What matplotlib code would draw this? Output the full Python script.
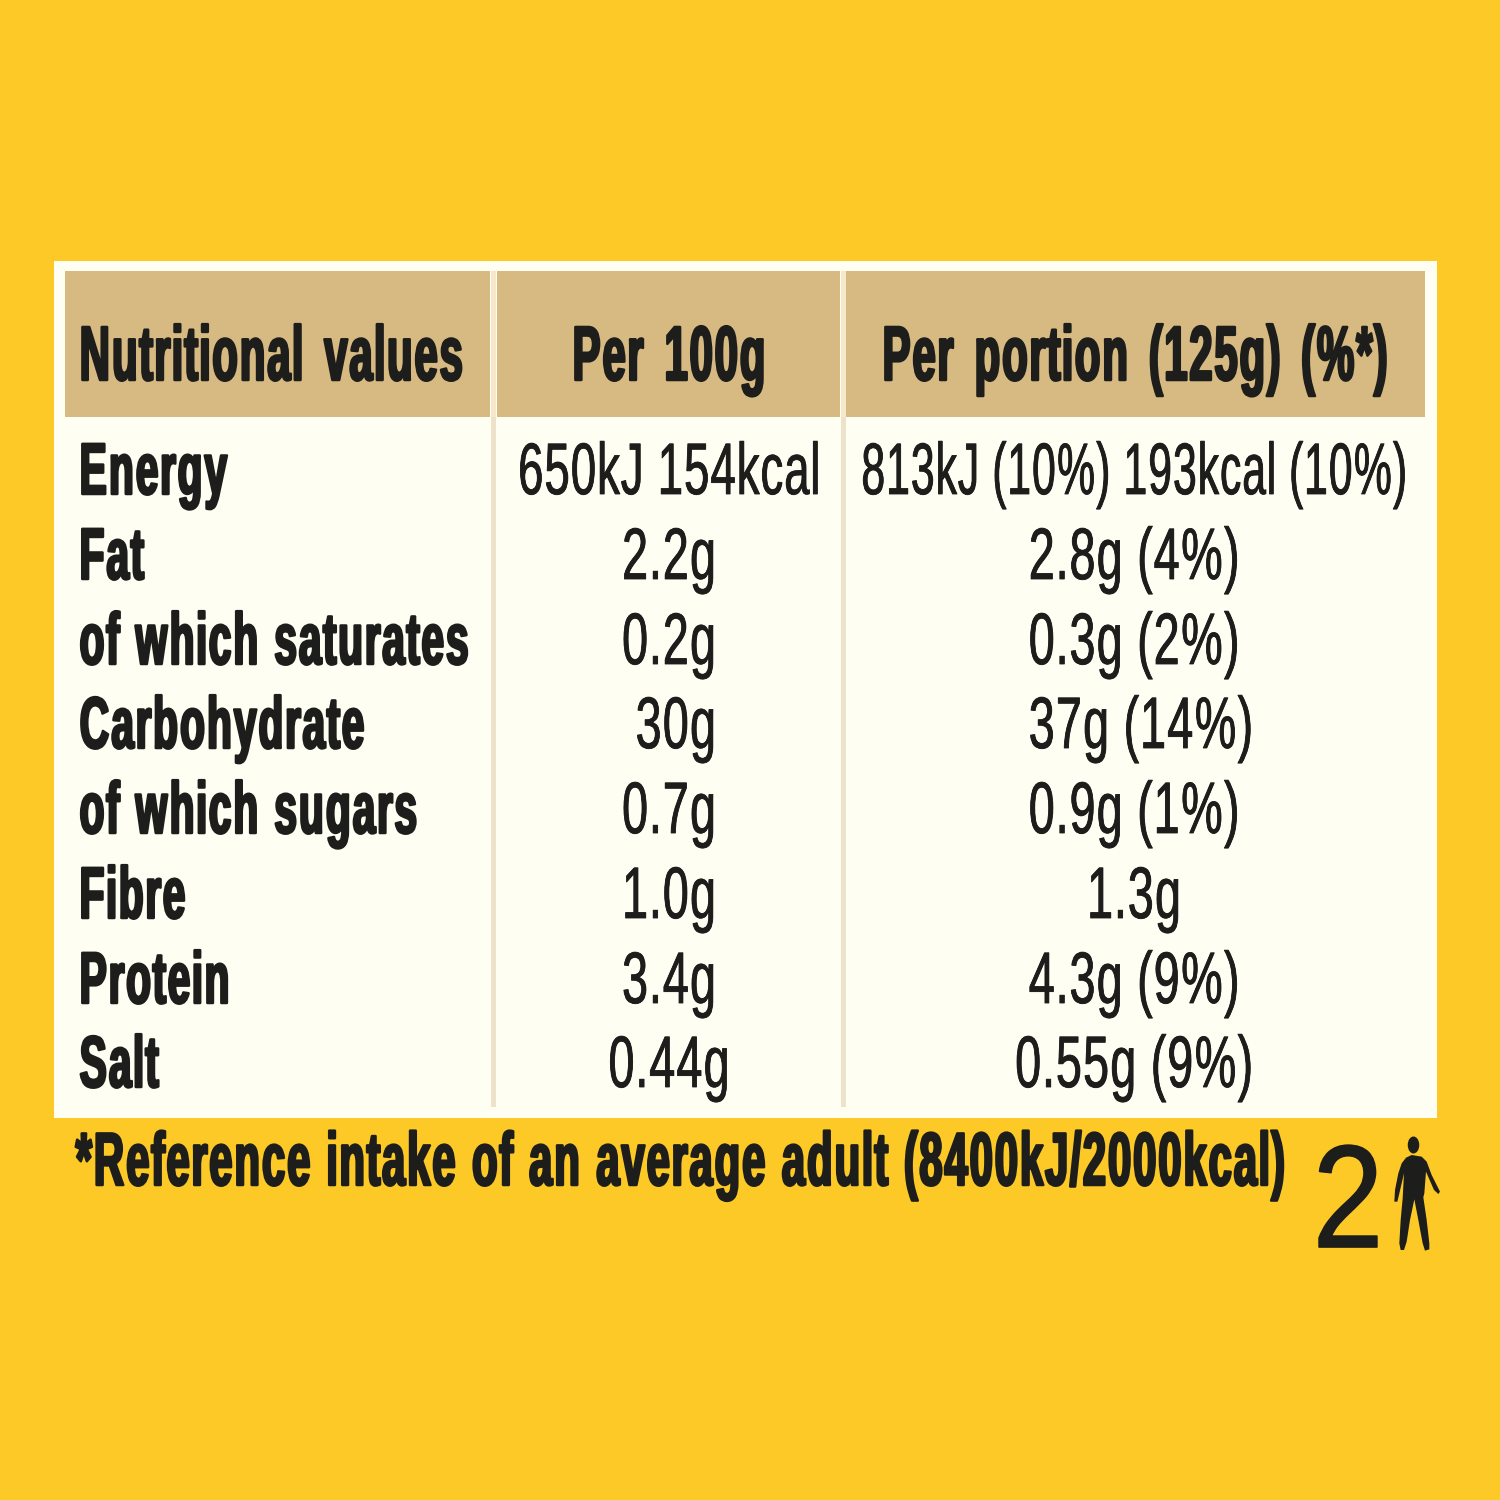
import matplotlib
matplotlib.use('Agg')
import matplotlib.pyplot as plt
from matplotlib import font_manager as fm
from matplotlib.font_manager import FontProperties
from matplotlib.patches import Rectangle, Polygon, Ellipse
import matplotlib.patheffects as pe
from fontTools.ttLib import TTFont

header_labels = ['Nutritional values', 'Per 100g', 'Per portion (125g) (%*)']
nutrients = ['Energy', 'Fat', 'of which saturates', 'Carbohydrate', 'of which sugars', 'Fibre', 'Protein', 'Salt']
per_100g = ['650kJ 154kcal', '2.2g', '0.2g', ' 30g', '0.7g', '1.0g', '3.4g', '0.44g']
per_portion = ['813kJ (10%) 193kcal (10%)', '2.8g (4%)', '0.3g (2%)', ' 37g (14%)', '0.9g (1%)', '1.3g', '4.3g (9%)', '0.55g (9%)']
footnote = '*Reference intake of an average adult (8400kJ/2000kcal)'
portions = '2'

YEL = '#FDC926'; CREAM = '#FFFEF3'; TAN = '#D7BA82'; INK = '#1D1D1B'; SEP = '#EFE2CB'; SEP_TOP = '#F7E8CB'


def condensed(weight, shape, advance, space, family):
    """Write a condensed copy of Liberation Sans (glyph width, advance and
    word-space factors set apart) and register it."""
    src = fm.findfont(FontProperties(family='Liberation Sans', weight=weight))
    f = TTFont(src)
    glyf = f['glyf']
    hmtx = f['hmtx']
    old = dict(hmtx.metrics)
    shift = {n: (a * advance - a * shape) / 2 for n, (a, _) in old.items()}
    for name in glyf.keys():
        g = glyf[name]
        if g.isComposite():
            for c in g.components:
                c.x = round(c.x * shape)
    for name in glyf.keys():
        g = glyf[name]
        if not g.isComposite() and g.numberOfContours > 0:
            g.coordinates.scale((shape, 1))
            g.coordinates.translate((round(shift[name]), 0))
            g.coordinates.toInt()
            g.program.fromBytecode([])
    for name, (adv, lsb) in old.items():
        factor = advance * space if name in ('space', 'uni00A0') else advance
        hmtx.metrics[name] = (round(adv * factor), round(lsb * shape + shift[name]))
    for t in ('kern', 'GPOS', 'GSUB', 'GDEF', 'fpgm', 'prep', 'cvt ', 'hdmx', 'VDMX', 'LTSH', 'gasp'):
        if t in f:
            del f[t]
    for rec in f['name'].names:
        if rec.nameID in (1, 4, 16):
            rec.string = family
        elif rec.nameID == 6:
            rec.string = family.replace(' ', '')
        elif rec.nameID in (2, 17):
            rec.string = 'Regular'
    f['OS/2'].usWeightClass = 400
    f['OS/2'].fsSelection = 0x40
    f['head'].macStyle = 0
    path = family.replace(' ', '') + '.ttf'
    f.save(path)
    fm.fontManager.addfont(path)
    return family


plt.rcParams['text.hinting'] = 'none'
HDR = condensed('bold', 0.545, 0.585, 1.55, 'Cond Head')
BLD = condensed('bold', 0.56, 0.605, 1.15, 'Cond Bold')
REG = condensed('normal', 0.64, 0.67, 1.0, 'Cond Reg')
E100 = condensed('normal', 0.625, 0.65, 1.0, 'Cond Energy A')
EPOR = condensed('normal', 0.585, 0.61, 1.0, 'Cond Energy B')
FOOT = condensed('bold', 0.56, 0.603, 1.15, 'Cond Foot')
TWO = condensed('normal', 0.87, 0.87, 1.0, 'Cond Two')

fig = plt.figure(figsize=(10, 10), dpi=150, facecolor=YEL)
ax = fig.add_axes([0, 0, 1, 1])
ax.set_xlim(0, 1500); ax.set_ylim(1500, 0); ax.axis('off')

ax.add_patch(Rectangle((54, 261), 1383, 857, fc=CREAM, ec='none'))
for x0, w in [(65, 425), (497, 343), (846, 579)]:
    ax.add_patch(Rectangle((x0, 271), w, 146, fc=TAN, ec='none'))
for x0 in (491, 841):
    ax.add_patch(Rectangle((x0, 271), 5, 146, fc=SEP_TOP, ec='none'))
    ax.add_patch(Rectangle((x0, 417), 5, 690, fc=SEP, ec='none'))

heavy = [pe.withStroke(linewidth=1.2, foreground=INK)]
medium = [pe.withStroke(linewidth=0.4, foreground=INK)]
FS_H = 37; FS = 35

for label, x, ha in zip(header_labels, [78.5, 669, 1135], ['left', 'center', 'center']):
    ax.text(x, 380, label, family=HDR, fontsize=FS_H, color=INK, va='baseline', ha=ha, path_effects=heavy)

rows_y = [494, 579, 664, 748, 833, 918, 1003, 1087]
for i, (y, a, b, c) in enumerate(zip(rows_y, nutrients, per_100g, per_portion)):
    ax.text(78.5, y, a, family=BLD, fontsize=FS, color=INK, va='baseline', ha='left', path_effects=heavy)
    ax.text(669, y, b, family=E100 if i == 0 else REG, fontsize=FS, color=INK, va='baseline', ha='center', path_effects=medium)
    ax.text(1134, y, c, family=EPOR if i == 0 else REG, fontsize=FS, color=INK, va='baseline', ha='center', path_effects=medium)

ax.text(75, 1185, footnote, family=FOOT, fontsize=36, color=INK, va='baseline', ha='left', path_effects=heavy)
ax.text(1348, 1247, portions, family=TWO, fontsize=70, color=INK, va='baseline', ha='center',
        path_effects=[pe.withStroke(linewidth=0.8, foreground=INK)])

# person pictogram, outline traced in a 3x crop whose corner is (1290, 1110)
ax.add_patch(Ellipse((1413.5, 1145), 11.5, 17, fc=INK, ec='none'))
outline = [(365,135),(395,140),(410,155),(425,195),(450,245),(445,252),(432,240),(408,185),(403,250),
           (400,262),(410,330),(418,400),(418,418),(405,422),(398,400),(385,330),(373,268),(360,330),
           (350,395),(342,420),(332,420),(328,400),(332,330),(338,265),(342,190),(328,250),(322,275),
           (313,275),(315,240),(325,190),(335,160),(348,143)]
ax.add_patch(Polygon([(1290 + x / 3, 1110 + y / 3) for x, y in outline], fc=INK, ec='none'))

fig.savefig('out.png', dpi=150, facecolor=YEL)
